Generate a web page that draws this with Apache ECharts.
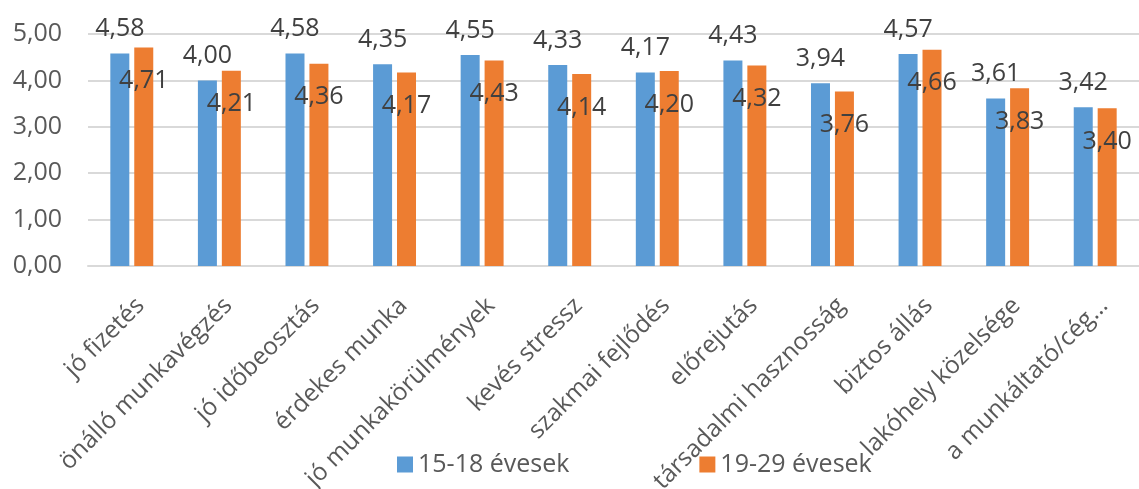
<!DOCTYPE html>
<html><head><meta charset="utf-8">
<script src="https://cdn.jsdelivr.net/npm/echarts@6/dist/echarts.min.js"></script>
<style>html,body{margin:0;padding:0;background:#fff;}#c{width:1139px;height:489px;}</style>
</head><body><div id="c"></div>
<script>
var categories = ['jó fizetés','önálló munkavégzés','jó időbeosztás','érdekes munka','jó munkakörülmények','kevés stressz','szakmai fejlődés','előrejutás','társadalmi hasznosság','biztos állás','lakóhely közelsége','a munkáltató/cég…'];
var series1Name = '15-18 évesek';
var series2Name = '19-29 évesek';
var series1 = [4.58,4.00,4.58,4.35,4.55,4.33,4.17,4.43,3.94,4.57,3.61,3.42];
var series2 = [4.71,4.21,4.36,4.17,4.43,4.14,4.20,4.32,3.76,4.66,3.83,3.40];

var FONT = '"Open Sans"';
function fmt(v){ return Number(v).toFixed(2).replace('.', ','); }
var chart = echarts.init(document.getElementById('c'));
chart.setOption({
  animation: false,
  textStyle: {fontFamily: FONT},
  grid: {left: 88, right: 0, top: 34, bottom: 223, containLabel: false, outerBoundsMode: 'none'},
  legend: {
    left: 392, top: 447, itemWidth: 16, itemHeight: 16, itemGap: 130,
    icon: 'rect',
    textStyle: {fontSize: 25, color: '#595959', fontFamily: FONT},
    data: [series1Name, series2Name]
  },
  xAxis: {
    type: 'category', data: categories,
    axisLine: {show: true, lineStyle: {color: '#d9d9d9', width: 2}},
    axisTick: {show: false},
    axisLabel: {interval: 0, rotate: 45, fontSize: 24.5, color: '#595959', margin: 27, verticalAlign: 'top', fontFamily: FONT}
  },
  yAxis: {
    type: 'value', min: 0, max: 5, interval: 1,
    axisLine: {show: false}, axisTick: {show: false},
    splitLine: {lineStyle: {color: '#d9d9d9', width: 2}},
    axisLabel: {formatter: fmt, fontSize: 25, color: '#595959', margin: 26, fontFamily: FONT}
  },
  series: [
    {name: series1Name, type: 'bar', data: series1, barWidth: 19, barGap: '26%',
     itemStyle: {color: '#5B9BD5'},
     label: {show: true, position: 'top', distance: 12, formatter: function(p){return fmt(p.value);}, fontSize: 25, color: '#404040', fontFamily: FONT}},
    {name: series2Name, type: 'bar', data: series2, barWidth: 19,
     itemStyle: {color: '#ED7D31'},
     label: {show: true, position: 'insideTop', distance: 21, formatter: function(p){return fmt(p.value);}, fontSize: 25, color: '#404040', fontFamily: FONT}}
  ]
});
</script></body></html>
